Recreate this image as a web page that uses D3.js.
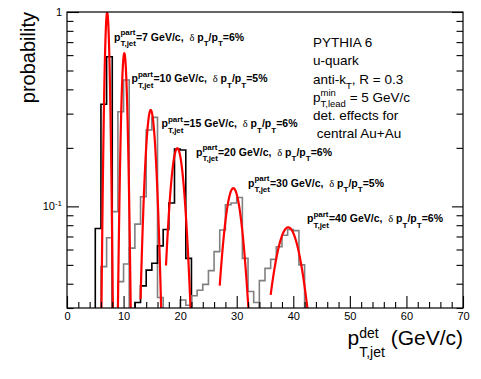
<!DOCTYPE html>
<html><head><meta charset="utf-8">
<script src="https://cdn.jsdelivr.net/npm/d3@7"></script>
<style>html,body{margin:0;padding:0;background:#fff;} svg{display:block;} text{white-space:pre;}</style>
</head><body>
<svg id="c" width="481" height="379"></svg>
<script>
// ---------- data ----------
const ptPart = ["7", "10", "15", "20", "30", "40"];
const resolution = ["6%", "5%", "6%", "6%", "5%", "6%"];
const histStart = [5, 6, 9, 12, 20, 34];          // low edge of first bin (bin width 1 GeV/c)
const h7  = [0.077, 0.335, 0.589];
const h10 = [0.049, 0.069, 0.094, 0.307, 0.447];
const h15 = [0.041, 0.0505, 0.061, 0.081, 0.112, 0.247, 0.287, 0.034];
const h20 = [0.032, 0.039, 0.047, 0.051, 0.0626, 0.076, 0.104, 0.197, 0.195, 0.054];
const h30 = [0.033, 0.031, 0.0347, 0.037, 0.0397, 0.0467, 0.0585, 0.0756, 0.102, 0.104, 0.111, 0.054, 0.0365, 0.032];
const h40 = [0.0415, 0.048, 0.0534, 0.062, 0.071, 0.076, 0.075, 0.05];
const hists = [h7, h10, h15, h20, h30, h40];
const fitAmp   = [0.99, 0.613, 0.313, 0.199, 0.124, 0.078];
const fitMean  = [7.1, 10.13, 14.8, 19.5, 29.4, 39.1];
const fitSigma = [0.38, 0.46, 0.85, 1.2, 1.58, 2.45];
const fitLo    = [5.5, 8.5, 13, 17.5, 27, 36];
const fitHi    = [9, 12, 17.5, 23, 33, 43.5];
const xTicks = [0, 10, 20, 30, 40, 50, 60, 70];
const xMinorTicks = d3.range(0, 70.01, 2);
const yMajorTicks = [0.1, 1];
const yMinorTicks = [0.03,0.04,0.05,0.06,0.07,0.08,0.09,0.2,0.3,0.4,0.5,0.6,0.7,0.8,0.9];
const yTickLabels = [["1", ""], ["10", "-1"]];
const infoLines = [
  ["PYTHIA 6"],
  ["u-quark"],
  ["anti-k", {sub: "T"}, ", R = 0.3"],
  ["p", {sup: "min", sub: "T,lead"}, " = 5 GeV/c"],
  ["det. effects for"],
  [" central Au+Au"]
];

// ---------- layout / style ----------
const F = "'Liberation Sans', Arial, Helvetica, sans-serif";
const frame = {l: 67, r: 463, t: 12, b: 308};
const histColor = ["#000", "#808080", "#808080", "#000", "#808080", "#808080"];
const labelPos = [[114, 40.5], [131.5, 82], [161.5, 127], [196, 155.5], [248, 186.5], [307, 222]];
const infoPos = [[313, 46.5], [313, 65], [313, 83.5], [313, 102], [313, 120], [313, 137.5]];

const svg = d3.select("#c");
const x = d3.scaleLinear().domain([0, 70]).range([frame.l, frame.r]);
const y = d3.scaleLog().domain([0.03, 1]).range([frame.b, frame.t]);
const ymin = y.domain()[0];

svg.append("defs").append("clipPath").attr("id", "clip")
  .append("rect").attr("x", frame.l).attr("y", frame.t)
  .attr("width", frame.r - frame.l).attr("height", frame.b - frame.t);

const plot = svg.append("g").attr("clip-path", "url(#clip)");
const line = d3.line().x(d => x(d[0])).y(d => y(d[1]));

// histograms
hists.forEach((h, i) => {
  const s = histStart[i];
  const pts = [[s, ymin]];
  h.forEach((v, j) => {
    const vv = Math.max(v, ymin);
    pts.push([s + j, vv], [s + j + 1, vv]);
  });
  pts.push([s + h.length, ymin]);
  plot.append("path").attr("d", line(pts)).attr("fill", "none")
    .attr("stroke", histColor[i]).attr("stroke-width", 1.6);
});

// gaussian fits
fitAmp.forEach((A, i) => {
  const pts = d3.range(0, 201).map(k => {
    const xv = fitLo[i] + (fitHi[i] - fitLo[i]) * k / 200;
    const v = A * Math.exp(-Math.pow(xv - fitMean[i], 2) / (2 * fitSigma[i] * fitSigma[i]));
    return [xv, Math.max(v, 0.01)];
  });
  plot.append("path").attr("d", line(pts)).attr("fill", "none")
    .attr("stroke", "#ff0000").attr("stroke-width", 2.2);
});

// frame
svg.append("rect").attr("x", frame.l).attr("y", frame.t)
  .attr("width", frame.r - frame.l).attr("height", frame.b - frame.t)
  .attr("fill", "none").attr("stroke", "#000").attr("stroke-width", 1.2);

// axes (ticks inward)
function tickAxis(axisGen, transform) {
  const g = svg.append("g").attr("transform", transform).call(axisGen);
  g.select(".domain").remove();
  g.selectAll("line").attr("stroke", "#000").attr("stroke-width", 1.1);
  g.selectAll("text").remove();
  return g;
}
tickAxis(d3.axisBottom(x).tickValues(xTicks).tickSize(-12), `translate(0,${frame.b})`);
tickAxis(d3.axisBottom(x).tickValues(xMinorTicks.filter(v => v % 10 !== 0)).tickSize(-6), `translate(0,${frame.b})`);
tickAxis(d3.axisLeft(y).tickValues(yMajorTicks).tickSize(-12), `translate(${frame.l},0)`);
tickAxis(d3.axisLeft(y).tickValues(yMinorTicks).tickSize(-6.5), `translate(${frame.l},0)`);
tickAxis(d3.axisRight(y).tickValues(yMajorTicks).tickSize(-11), `translate(${frame.r},0)`);
tickAxis(d3.axisRight(y).tickValues(yMinorTicks).tickSize(-6.5), `translate(${frame.r},0)`);

// x tick labels
const xl = svg.append("g").attr("transform", `translate(0,${frame.b})`)
  .call(d3.axisBottom(x).tickValues(xTicks).tickSize(0).tickPadding(4).tickFormat(d3.format("d")));
xl.select(".domain").remove();
xl.selectAll("text").attr("font-family", F).attr("font-size", 11).attr("fill", "#000").attr("dy", "0.71em");

// y tick labels
yMajorTicks.slice().reverse().forEach((v, i) => {
  const [b, e] = yTickLabels[i];
  const t = svg.append("text").attr("x", 62).attr("y", y(v) + 4)
    .attr("text-anchor", "end").attr("font-family", F).attr("font-size", 11).attr("fill", "#000");
  t.append("tspan").text(b);
  if (e) t.append("tspan").attr("dy", -4).attr("font-size", 8).text(e);
});

// rich-text helper: strings, {sup, sub}, {sym}
function rich(g, x0, y0, segs, st) {
  let cx = x0;
  const mk = (txt, xx, yy, size, fam, weight) => g.append("text")
    .attr("x", xx).attr("y", yy).attr("font-family", fam || F)
    .attr("font-size", size).attr("font-weight", weight || st.weight).attr("fill", "#000").text(txt);
  segs.forEach(s => {
    if (typeof s === "string") {
      cx += mk(s, cx, y0, st.size).node().getComputedTextLength();
    } else if (s.sym) {
      cx += mk(s.sym, cx, y0, st.size, "'Liberation Serif', 'DejaVu Serif', serif", "normal").node().getComputedTextLength();
    } else {
      let w = 0;
      if (s.sup) w = Math.max(w, mk(s.sup, cx, y0 + st.supDy, st.small).node().getComputedTextLength());
      if (s.sub) w = Math.max(w, mk(s.sub, cx, y0 + st.subDy, st.small).node().getComputedTextLength());
      cx += w;
    }
  });
  return cx;
}

// per-curve labels
const labStyle = {size: 10.5, small: 8, weight: "bold", supDy: -5.5, subDy: 5.5};
ptPart.forEach((p, i) => {
  const segs = ["p", {sup: "part", sub: "T,jet"}, "=" + p + " GeV/c,  ", {sym: "δ"}, " p", {sub: "T"}, "/p", {sub: "T"}, "=" + resolution[i]];
  rich(svg.append("g"), labelPos[i][0], labelPos[i][1], segs, labStyle);
});

// info block
const infoStyle = {size: 13.5, small: 9.5, weight: "normal", supDy: -6.5, subDy: 5};
infoLines.forEach((segs, i) => rich(svg.append("g"), infoPos[i][0], infoPos[i][1], segs, infoStyle));

// x-axis title (right aligned)
const xt = svg.append("g");
const endX = rich(xt, 0, 345, ["p", {sup: "det", sub: "T,jet"}, " (GeV/c)"], {size: 21, small: 14, weight: "normal", supDy: -7.5, subDy: 12});
xt.attr("transform", `translate(${frame.r - endX},0)`);

// y-axis title
svg.append("text").attr("transform", `translate(34.5,${frame.t}) rotate(-90)`)
  .attr("text-anchor", "end").attr("font-family", F).attr("font-size", 20).attr("fill", "#000")
  .text("probability");
</script>
</body></html>
